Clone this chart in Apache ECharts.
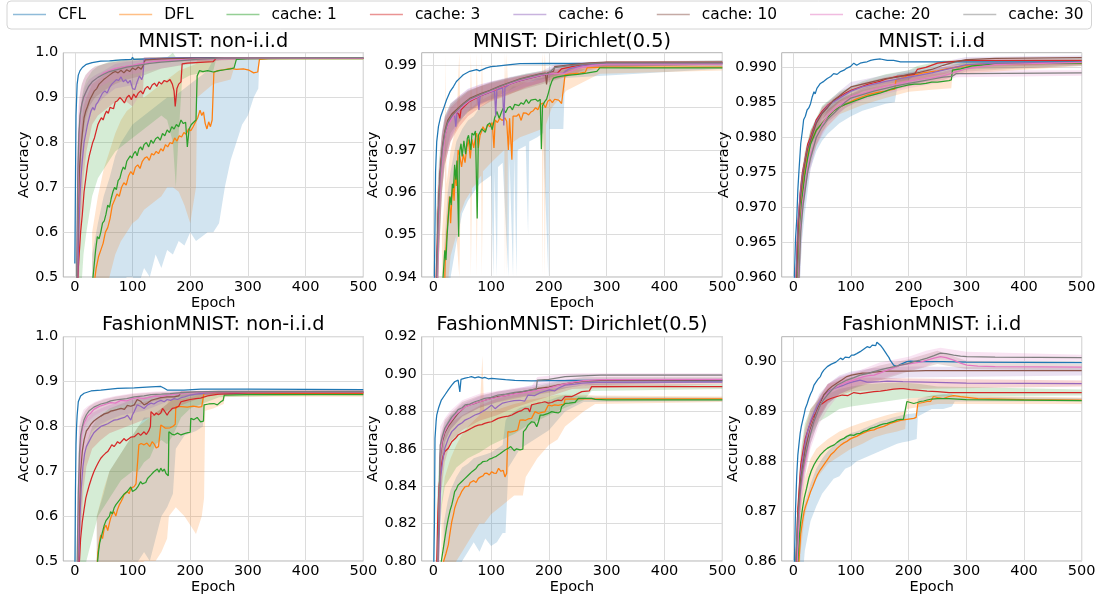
<!DOCTYPE html>
<html>
<head>
<meta charset="utf-8">
<title>Accuracy vs Epoch</title>
<script src="https://cdn.jsdelivr.net/npm/echarts@6/dist/echarts.min.js"></script>
<style>
  html, body { margin: 0; padding: 0; background: #ffffff; }
  #chart { width: 1102px; height: 602px; }
</style>
</head>
<body>
<div id="chart"></div>
<script>
// ---------- names, colours, titles, ticks ----------
const seriesNames = ['CFL', 'DFL', 'cache: 1', 'cache: 3', 'cache: 6', 'cache: 10', 'cache: 20', 'cache: 30'];
const lineColors = ['#1f77b4', '#ff7f0e', '#2ca02c', '#d62728', '#9467bd', '#8c564b', '#e377c2', '#7f7f7f'];
// spread bands take their colours from a separate cycle that starts at blue with DFL (CFL has no band)
const bandColors = [null, '#1f77b4', '#ff7f0e', '#2ca02c', '#d62728', '#9467bd', '#8c564b', '#e377c2'];
const panelTitles = ['MNIST: non-i.i.d', 'MNIST: Dirichlet(0.5)', 'MNIST: i.i.d',
                     'FashionMNIST: non-i.i.d', 'FashionMNIST: Dirichlet(0.5)', 'FashionMNIST: i.i.d'];
const xTicks = [0, 100, 200, 300, 400, 500];
const mnNonYTicks = [0.5, 0.6, 0.7, 0.8, 0.9, 1.0];
const mnDirYTicks = [0.94, 0.95, 0.96, 0.97, 0.98, 0.99];
const mnIidYTicks = [0.96, 0.965, 0.97, 0.975, 0.98, 0.985, 0.99];
const fmNonYTicks = [0.5, 0.6, 0.7, 0.8, 0.9, 1.0];
const fmDirYTicks = [0.80, 0.82, 0.84, 0.86, 0.88, 0.90, 0.92];
const fmIidYTicks = [0.86, 0.87, 0.88, 0.89, 0.90];

// ---------- MNIST non-i.i.d : [epoch, accuracy] ----------
const mnNonCFL = [[0,0.53],[1,0.7],[2,0.86],[4,0.93],[6,0.95],[9,0.96],[13,0.967],[20,0.974],[30,0.978],[45,0.981],[60,0.982],[80,0.984],[98,0.985],[100,0.99],[102,0.985],[130,0.986],[160,0.988],[200,0.989],[300,0.989],[500,0.989]];
const mnNonDFL = [[0,0.3],[33,0.48],[37,0.52],[41,0.545],[45,0.56],[49,0.575],[53,0.6],[57,0.61],[61,0.63],[65,0.66],[69,0.672],[73,0.685],[77,0.68],[81,0.7],[85,0.71],[89,0.705],[93,0.725],[97,0.735],[101,0.728],[105,0.745],[109,0.75],[113,0.742],[117,0.758],[121,0.765],[125,0.768],[129,0.76],[133,0.775],[137,0.772],[141,0.78],[145,0.775],[149,0.786],[153,0.781],[157,0.795],[161,0.79],[165,0.8],[169,0.797],[173,0.81],[177,0.803],[181,0.815],[185,0.812],[189,0.822],[193,0.818],[197,0.83],[201,0.826],[205,0.835],[209,0.845],[213,0.855],[217,0.872],[220,0.86],[223,0.868],[226,0.842],[229,0.83],[232,0.846],[235,0.835],[238,0.85],[241,0.956],[248,0.96],[258,0.962],[270,0.965],[280,0.963],[292,0.964],[302,0.961],[310,0.955],[317,0.957],[320,0.985],[335,0.987],[500,0.987]];
const mnNonC1 = [[0,0.3],[30,0.48],[33,0.52],[36,0.56],[39,0.59],[42,0.585],[45,0.6],[48,0.62],[51,0.625],[54,0.64],[57,0.66],[60,0.655],[63,0.675],[66,0.69],[69,0.7],[72,0.695],[75,0.715],[78,0.72],[81,0.735],[84,0.745],[87,0.74],[90,0.758],[93,0.762],[96,0.77],[99,0.765],[102,0.775],[105,0.78],[108,0.77],[111,0.785],[114,0.79],[117,0.783],[120,0.795],[124,0.8],[128,0.79],[132,0.805],[136,0.798],[140,0.808],[144,0.812],[148,0.805],[152,0.82],[156,0.815],[160,0.828],[164,0.822],[168,0.835],[172,0.83],[176,0.84],[180,0.835],[184,0.85],[188,0.842],[192,0.845],[195,0.79],[198,0.83],[202,0.84],[206,0.845],[210,0.85],[212,0.948],[216,0.96],[222,0.958],[230,0.96],[240,0.957],[250,0.96],[260,0.962],[270,0.964],[276,0.966],[280,0.985],[300,0.987],[500,0.987]];
const mnNonC3 = [[0,0.3],[4,0.45],[6,0.52],[8,0.56],[10,0.6],[13,0.64],[16,0.69],[19,0.72],[22,0.75],[25,0.77],[28,0.785],[31,0.8],[34,0.81],[37,0.825],[40,0.84],[43,0.848],[46,0.855],[49,0.85],[52,0.862],[55,0.87],[58,0.865],[61,0.878],[64,0.882],[67,0.875],[70,0.89],[74,0.893],[78,0.9],[82,0.895],[86,0.888],[90,0.9],[94,0.905],[98,0.895],[102,0.908],[106,0.9],[110,0.91],[114,0.915],[118,0.908],[122,0.92],[126,0.925],[130,0.918],[134,0.928],[138,0.932],[142,0.925],[146,0.935],[150,0.93],[155,0.938],[160,0.935],[165,0.94],[169,0.93],[172,0.915],[174,0.88],[177,0.92],[180,0.93],[184,0.935],[186,0.975],[195,0.977],[210,0.978],[225,0.979],[240,0.98],[245,0.988],[500,0.988]];
const mnNonC6 = [[0,0.3],[5,0.5],[7,0.6],[9,0.68],[11,0.73],[13,0.76],[16,0.8],[19,0.82],[22,0.84],[25,0.855],[28,0.87],[31,0.878],[34,0.872],[37,0.885],[40,0.89],[44,0.9],[48,0.91],[52,0.915],[56,0.91],[60,0.922],[64,0.93],[68,0.935],[72,0.94],[76,0.938],[80,0.946],[84,0.935],[88,0.94],[92,0.932],[96,0.938],[100,0.92],[104,0.918],[108,0.935],[112,0.948],[116,0.94],[118,0.948],[120,0.985],[140,0.986],[170,0.988],[500,0.988]];
const mnNonC10 = [[0,0.3],[4,0.5],[6,0.65],[8,0.74],[10,0.78],[13,0.82],[16,0.855],[19,0.87],[22,0.88],[26,0.895],[30,0.905],[34,0.915],[38,0.92],[42,0.93],[46,0.935],[50,0.94],[55,0.945],[60,0.95],[65,0.955],[70,0.958],[75,0.955],[80,0.961],[85,0.955],[90,0.962],[95,0.958],[100,0.966],[105,0.962],[110,0.968],[115,0.963],[118,0.97],[122,0.984],[150,0.986],[200,0.988],[500,0.988]];
const mnNonC20 = [[0,0.3],[4,0.55],[6,0.75],[8,0.83],[10,0.87],[13,0.89],[16,0.9],[20,0.915],[25,0.925],[30,0.935],[40,0.945],[50,0.955],[60,0.96],[70,0.965],[80,0.967],[90,0.97],[100,0.972],[110,0.975],[120,0.977],[135,0.98],[150,0.982],[175,0.984],[200,0.985],[230,0.986],[260,0.988],[500,0.988]];
const mnNonC30 = [[0,0.3],[3,0.5],[5,0.72],[7,0.82],[9,0.86],[12,0.885],[15,0.9],[19,0.912],[24,0.925],[30,0.935],[40,0.945],[50,0.952],[60,0.958],[75,0.963],[90,0.968],[110,0.972],[130,0.976],[150,0.979],[180,0.982],[210,0.985],[250,0.988],[500,0.989]];
// spread bands : [epoch, lower, upper]
const mnNonBandDFL = [[30,0.3,0.55],[40,0.3,0.62],[50,0.35,0.68],[60,0.4,0.72],[70,0.45,0.77],[80,0.48,0.8],[90,0.5,0.82],[100,0.5,0.84],[110,0.48,0.85],[120,0.52,0.86],[130,0.5,0.87],[140,0.55,0.88],[150,0.52,0.89],[160,0.56,0.9],[170,0.55,0.9],[180,0.58,0.91],[190,0.57,0.92],[200,0.6,0.93],[210,0.58,0.94],[220,0.59,0.95],[230,0.6,0.96],[240,0.6,0.985],[250,0.62,0.988],[260,0.7,0.988],[270,0.76,0.988],[280,0.8,0.988],[290,0.84,0.988],[300,0.86,0.988],[310,0.9,0.988],[318,0.92,0.988],[320,0.985,0.989],[500,0.985,0.989]];
const mnNonBandC1 = [[30,0.3,0.6],[40,0.4,0.68],[50,0.45,0.74],[60,0.5,0.78],[70,0.55,0.82],[80,0.58,0.85],[90,0.6,0.87],[100,0.62,0.88],[110,0.63,0.9],[120,0.65,0.9],[130,0.66,0.91],[140,0.67,0.92],[150,0.68,0.93],[160,0.7,0.94],[170,0.7,0.95],[180,0.69,0.96],[190,0.66,0.965],[200,0.62,0.97],[210,0.7,0.975],[212,0.9,0.985],[240,0.93,0.985],[270,0.94,0.986],[280,0.984,0.988],[500,0.984,0.988]];
const mnNonBandC3 = [[5,0.35,0.8],[10,0.45,0.88],[15,0.55,0.92],[20,0.6,0.94],[30,0.68,0.96],[40,0.72,0.97],[50,0.74,0.975],[60,0.76,0.98],[70,0.78,0.985],[80,0.79,0.985],[90,0.8,0.985],[100,0.81,0.988],[110,0.82,0.988],[120,0.83,0.988],[130,0.84,0.99],[140,0.85,0.99],[150,0.86,0.99],[160,0.85,0.99],[170,0.8,1.0],[175,0.7,0.99],[180,0.82,0.99],[186,0.94,0.99],[200,0.95,0.99],[240,0.96,0.99],[245,0.986,0.99],[500,0.986,0.99]];
const mnNonBandC6 = [[5,0.4,0.7],[10,0.6,0.82],[15,0.72,0.88],[20,0.78,0.9],[30,0.84,0.93],[40,0.86,0.94],[50,0.87,0.95],[60,0.88,0.96],[70,0.89,0.965],[80,0.9,0.97],[90,0.89,0.97],[100,0.88,0.972],[110,0.9,0.975],[118,0.9,0.978],[120,0.98,0.99],[500,0.986,0.99]];
const mnNonBandC10 = [[4,0.4,0.7],[8,0.65,0.85],[12,0.75,0.9],[18,0.82,0.925],[25,0.86,0.94],[35,0.88,0.95],[50,0.9,0.96],[70,0.92,0.975],[90,0.925,0.98],[110,0.93,0.982],[120,0.98,0.99],[500,0.986,0.99]];
const mnNonBandC20 = [[4,0.4,0.75],[8,0.7,0.9],[12,0.8,0.93],[18,0.85,0.95],[25,0.88,0.96],[35,0.9,0.97],[50,0.915,0.975],[70,0.93,0.98],[90,0.94,0.985],[120,0.95,0.988],[150,0.965,0.99],[200,0.975,0.99],[260,0.985,0.99],[500,0.986,0.99]];
const mnNonBandC30 = [[3,0.4,0.75],[6,0.7,0.88],[10,0.8,0.92],[15,0.86,0.94],[22,0.89,0.955],[30,0.91,0.965],[45,0.925,0.972],[60,0.935,0.978],[90,0.95,0.982],[130,0.96,0.986],[180,0.972,0.99],[250,0.984,0.99],[500,0.986,0.99]];

// ---------- MNIST Dirichlet(0.5) ----------
const mnDirCFL = [[0,0.85],[2,0.94],[4,0.965],[6,0.972],[9,0.9756],[13,0.978],[17,0.9795],[23,0.9819],[29,0.9838],[35,0.985],[40,0.9862],[46,0.987],[52,0.9878],[63,0.9886],[75,0.989],[80,0.9887],[92,0.9894],[100,0.9897],[110,0.9898],[133,0.9902],[150,0.9904],[200,0.9905],[500,0.9904]];
const mnDirDFL = [[0,0.85],[19,0.935],[21,0.945],[23,0.949],[26,0.955],[28,0.959],[30,0.9527],[32,0.958],[34,0.962],[36,0.958],[38,0.9645],[40,0.9615],[42,0.967],[43,0.97],[46,0.9685],[49,0.966],[52,0.969],[55,0.967],[58,0.9705],[61,0.9725],[64,0.968],[67,0.9725],[70,0.9705],[73,0.973],[75,0.974],[78,0.9705],[81,0.9735],[84,0.9745],[86,0.9755],[90,0.9745],[94,0.976],[98,0.9755],[102,0.9765],[105,0.9705],[107,0.9771],[111,0.9765],[115,0.9775],[119,0.977],[124,0.9776],[127,0.9768],[130,0.97],[132,0.9775],[136,0.9677],[138,0.978],[141,0.9778],[144,0.978],[148,0.9785],[152,0.977],[156,0.9788],[161,0.9787],[165,0.9783],[169,0.979],[173,0.9793],[177,0.98],[181,0.9795],[185,0.9808],[190,0.9811],[194,0.98],[198,0.9815],[202,0.9819],[206,0.9812],[210,0.982],[213,0.9823],[217,0.9818],[222,0.981],[225,0.9812],[228,0.9878],[240,0.988],[254,0.9882],[263,0.9884],[266,0.9894],[300,0.9896],[500,0.9896]];
const mnDirC1 = [[0,0.85],[15,0.93],[17,0.94],[20,0.9463],[22,0.944],[24,0.95],[27,0.956],[29,0.959],[31,0.957],[33,0.962],[35,0.961],[37,0.9665],[39,0.963],[41,0.9675],[43,0.9676],[44,0.9495],[45,0.968],[46,0.97],[48,0.9715],[50,0.9685],[53,0.9722],[56,0.969],[59,0.9728],[61,0.9735],[63,0.9732],[65,0.97],[67,0.974],[70,0.9735],[73,0.9745],[75,0.9742],[76,0.9538],[78,0.9735],[81,0.9735],[84,0.975],[86,0.9748],[90,0.9742],[94,0.976],[98,0.9764],[102,0.9748],[106,0.9775],[110,0.9791],[114,0.9775],[118,0.979],[121,0.9799],[125,0.9788],[129,0.98],[133,0.9803],[137,0.9795],[141,0.9808],[144,0.9811],[148,0.9805],[152,0.9812],[156,0.9808],[161,0.9819],[165,0.981],[169,0.9818],[173,0.9819],[177,0.982],[181,0.9815],[185,0.982],[187,0.9702],[189,0.9805],[193,0.9815],[196,0.982],[199,0.9834],[202,0.985],[205,0.9862],[208,0.987],[215,0.9873],[225,0.9875],[236,0.9877],[250,0.9879],[265,0.9882],[283,0.9886],[288,0.9894],[500,0.9894]];
const mnDirC3 = [[0,0.85],[5,0.94],[8,0.953],[11,0.962],[14,0.968],[18,0.972],[22,0.9745],[26,0.9765],[30,0.9775],[34,0.9783],[38,0.979],[44,0.9785],[46,0.9775],[48,0.9795],[55,0.9805],[63,0.9815],[81,0.9828],[98,0.9837],[115,0.9847],[133,0.9856],[150,0.9864],[167,0.987],[185,0.9876],[200,0.988],[215,0.9882],[222,0.9892],[250,0.99],[280,0.9905],[300,0.9907],[500,0.9907]];
const mnDirC6 = [[0,0.85],[6,0.94],[9,0.955],[12,0.964],[16,0.97],[20,0.9735],[25,0.976],[32,0.9778],[37,0.9782],[39,0.9755],[41,0.979],[52,0.9805],[63,0.9817],[77,0.9826],[79,0.9795],[81,0.9828],[98,0.9837],[106,0.984],[108,0.978],[110,0.9842],[120,0.9847],[122,0.9758],[124,0.9848],[133,0.9856],[150,0.9864],[167,0.987],[185,0.9876],[200,0.988],[225,0.9882],[235,0.9892],[260,0.99],[300,0.9904],[500,0.9905]];
const mnDirC10 = [[0,0.85],[6,0.94],[9,0.956],[12,0.965],[16,0.971],[20,0.9745],[25,0.977],[32,0.9785],[40,0.9795],[52,0.981],[63,0.9822],[81,0.9833],[98,0.9841],[115,0.9851],[133,0.986],[150,0.9868],[167,0.9874],[185,0.988],[194,0.9882],[196,0.9855],[198,0.9883],[208,0.9886],[210,0.9897],[240,0.9902],[270,0.9906],[300,0.9908],[500,0.9908]];
const mnDirC20 = [[0,0.85],[7,0.94],[10,0.956],[13,0.964],[17,0.97],[21,0.9738],[26,0.976],[33,0.9776],[40,0.979],[52,0.9805],[63,0.9817],[81,0.9829],[98,0.9838],[115,0.9848],[133,0.9857],[150,0.9865],[167,0.9871],[185,0.9877],[200,0.988],[230,0.9882],[250,0.9893],[275,0.99],[300,0.9903],[500,0.9903]];
const mnDirC30 = [[0,0.85],[6,0.94],[9,0.955],[12,0.964],[16,0.9705],[20,0.974],[25,0.9765],[32,0.978],[40,0.9792],[52,0.9808],[63,0.982],[81,0.9831],[98,0.984],[115,0.985],[133,0.9859],[150,0.9867],[167,0.9873],[185,0.9879],[200,0.9882],[210,0.9895],[240,0.99],[270,0.9904],[300,0.9906],[500,0.9906]];
const mnDirBandDFL = [[18,0.92,0.945],[25,0.935,0.96],[30,0.94,0.965],[40,0.948,0.972],[50,0.955,0.975],[60,0.958,0.977],[70,0.96,0.978],[80,0.962,0.98],[90,0.963,0.981],[100,0.964,0.982],[104,0.94,0.985],[106,0.965,0.982],[110,0.94,0.984],[112,0.966,0.983],[120,0.967,0.983],[130,0.94,0.984],[132,0.968,0.984],[138,0.94,0.985],[140,0.969,0.985],[144,0.94,0.985],[146,0.97,0.985],[160,0.971,0.986],[164,0.95,0.986],[166,0.972,0.986],[180,0.973,0.987],[190,0.974,0.987],[199,0.94,0.988],[201,0.975,0.988],[215,0.975,0.988],[225,0.975,0.988],[228,0.987,0.989],[500,0.9892,0.99]];
const mnDirBandC1 = [[15,0.92,0.95],[20,0.93,0.96],[21,0.93,0.993],[23,0.935,0.962],[30,0.945,0.97],[40,0.95,0.976],[45,0.94,0.993],[47,0.955,0.977],[55,0.958,0.978],[64,0.96,0.98],[65,0.94,0.993],[67,0.961,0.98],[74,0.962,0.981],[75,0.94,0.993],[77,0.963,0.981],[83,0.964,0.982],[84,0.94,0.993],[86,0.965,0.982],[100,0.967,0.983],[115,0.969,0.984],[123,0.97,0.984],[124,0.94,0.993],[126,0.97,0.984],[127,0.94,0.993],[129,0.971,0.985],[150,0.973,0.986],[170,0.974,0.986],[188,0.975,0.987],[189,0.94,0.993],[191,0.975,0.987],[193,0.94,0.993],[195,0.976,0.987],[205,0.98,0.988],[230,0.984,0.989],[288,0.988,0.99],[500,0.9888,0.99]];
const mnDirBandC3 = [[5,0.92,0.955],[10,0.945,0.968],[15,0.96,0.974],[20,0.968,0.978],[30,0.974,0.981],[40,0.976,0.982],[60,0.979,0.984],[80,0.981,0.985],[100,0.982,0.986],[130,0.984,0.987],[160,0.986,0.988],[200,0.987,0.989],[222,0.988,0.99],[260,0.9895,0.9905],[500,0.9902,0.9912]];
const mnDirBandC6 = [[6,0.925,0.955],[10,0.945,0.965],[15,0.96,0.9735],[20,0.9665,0.977],[30,0.972,0.98],[45,0.9755,0.982],[60,0.978,0.9838],[80,0.98,0.985],[100,0.9815,0.9858],[130,0.983,0.9868],[160,0.9848,0.9878],[200,0.9865,0.9888],[235,0.9875,0.9898],[270,0.9895,0.9905],[500,0.9901,0.9909]];
const mnDirBandC10 = [[6,0.925,0.955],[10,0.948,0.966],[15,0.962,0.9745],[20,0.968,0.978],[30,0.973,0.981],[45,0.977,0.9828],[60,0.9792,0.9845],[80,0.9808,0.9855],[100,0.982,0.9862],[130,0.9835,0.9872],[160,0.985,0.988],[190,0.986,0.9888],[210,0.9882,0.9902],[250,0.9893,0.9908],[500,0.9904,0.9912]];
const mnDirBandC20 = [[7,0.925,0.955],[10,0.946,0.965],[15,0.96,0.9735],[20,0.9665,0.9775],[30,0.972,0.9805],[45,0.9765,0.9825],[60,0.979,0.984],[80,0.9805,0.985],[100,0.9818,0.986],[130,0.9832,0.987],[160,0.9845,0.9878],[200,0.986,0.9885],[250,0.9882,0.99],[300,0.9898,0.9908],[500,0.9899,0.9907]];
const mnDirBandC30 = [[6,0.925,0.955],[10,0.947,0.966],[15,0.961,0.974],[20,0.967,0.978],[30,0.9725,0.981],[45,0.9768,0.9828],[60,0.9792,0.9843],[80,0.9808,0.9853],[100,0.982,0.9862],[130,0.9835,0.987],[160,0.9848,0.9878],[200,0.9865,0.9888],[210,0.9885,0.99],[250,0.9895,0.9905],[500,0.9903,0.9909]];

// ---------- MNIST i.i.d ----------
const mnIidCFL = [[0,0.93],[2,0.96],[4,0.9655],[6,0.9681],[8,0.9725],[10,0.9753],[13,0.9791],[16,0.981],[18,0.9825],[21,0.983],[24,0.9839],[27,0.9842],[30,0.9848],[33,0.9858],[36,0.9865],[38,0.9862],[41,0.987],[44,0.9868],[47,0.9877],[53,0.988],[59,0.9884],[65,0.9887],[70,0.9891],[76,0.989],[82,0.9894],[88,0.9896],[93,0.9899],[99,0.9901],[105,0.9906],[110,0.9903],[116,0.9906],[122,0.9907],[128,0.9908],[134,0.991],[140,0.9911],[151,0.9912],[163,0.991],[174,0.991],[186,0.9908],[200,0.9908],[500,0.9908]];
const mnIidDFL = [[0,0.94],[9,0.96],[12,0.9675],[16,0.972],[20,0.975],[25,0.9775],[30,0.9792],[40,0.981],[50,0.982],[60,0.9829],[70,0.9838],[80,0.9843],[90,0.9847],[100,0.9851],[110,0.9855],[120,0.9858],[130,0.9861],[140,0.9863],[150,0.9865],[160,0.9866],[170,0.9868],[176,0.9869],[178,0.9882],[190,0.9885],[200,0.9889],[215,0.989],[225,0.9892],[240,0.9894],[250,0.9895],[265,0.9898],[280,0.99],[300,0.9903],[330,0.9905],[500,0.9906]];
const mnIidC1 = [[0,0.94],[8,0.96],[11,0.966],[15,0.971],[20,0.9745],[25,0.977],[30,0.979],[40,0.981],[50,0.982],[60,0.9829],[70,0.9838],[80,0.9843],[90,0.9847],[100,0.985],[110,0.9853],[120,0.9856],[130,0.9859],[140,0.9861],[150,0.9863],[160,0.9866],[170,0.9869],[180,0.9871],[190,0.9873],[200,0.9875],[210,0.9876],[220,0.9876],[230,0.9877],[240,0.9879],[250,0.9879],[260,0.988],[270,0.9881],[274,0.9882],[276,0.9896],[290,0.9898],[310,0.9902],[350,0.9905],[500,0.9906]];
const mnIidC3 = [[0,0.94],[5,0.96],[8,0.9675],[12,0.972],[16,0.975],[20,0.9767],[25,0.979],[30,0.98],[40,0.9825],[50,0.9837],[60,0.9846],[70,0.9852],[80,0.9858],[90,0.9863],[100,0.9867],[110,0.987],[120,0.9873],[130,0.9876],[140,0.9878],[150,0.988],[160,0.9883],[170,0.9885],[180,0.9887],[190,0.9888],[200,0.9889],[210,0.989],[215,0.9897],[230,0.99],[250,0.9906],[270,0.9908],[300,0.991],[500,0.991]];
const mnIidC6 = [[0,0.94],[5,0.96],[8,0.967],[12,0.9717],[16,0.9745],[20,0.9764],[25,0.9785],[30,0.9797],[40,0.9822],[50,0.9835],[60,0.9845],[70,0.9851],[80,0.9856],[90,0.9861],[100,0.9866],[120,0.9872],[140,0.9876],[160,0.988],[180,0.9883],[200,0.9886],[220,0.9889],[240,0.9892],[260,0.9896],[280,0.99],[300,0.9904],[350,0.9906],[500,0.9907]];
const mnIidC10 = [[0,0.94],[6,0.96],[9,0.9672],[13,0.9715],[17,0.9745],[20,0.9762],[25,0.9783],[30,0.9795],[40,0.982],[50,0.9834],[60,0.9843],[70,0.9853],[80,0.9859],[90,0.9866],[100,0.9872],[120,0.9876],[140,0.988],[160,0.9884],[180,0.9886],[200,0.989],[220,0.9893],[240,0.9897],[260,0.9903],[280,0.9908],[300,0.9911],[350,0.9913],[500,0.9914]];
const mnIidC20 = [[0,0.94],[9,0.96],[12,0.9665],[16,0.9705],[20,0.9729],[25,0.9758],[30,0.9775],[40,0.9799],[50,0.9818],[60,0.9831],[70,0.9839],[80,0.9846],[90,0.9851],[100,0.9858],[120,0.9863],[140,0.9868],[160,0.9873],[180,0.9876],[200,0.988],[220,0.9883],[240,0.9885],[260,0.9888],[280,0.9893],[300,0.9898],[350,0.9904],[500,0.9907]];
const mnIidC30 = [[0,0.94],[10,0.96],[13,0.9665],[17,0.9702],[20,0.972],[25,0.975],[30,0.977],[40,0.98],[50,0.9815],[60,0.9826],[70,0.9834],[80,0.9842],[90,0.985],[100,0.9856],[120,0.9861],[140,0.9866],[160,0.987],[180,0.9874],[200,0.9877],[220,0.988],[240,0.9883],[260,0.9886],[275,0.9887],[282,0.9891],[300,0.9891],[500,0.9892]];
const mnIidBandDFL = [[9,0.955,0.963],[15,0.965,0.974],[20,0.969,0.977],[30,0.9755,0.981],[40,0.978,0.9828],[50,0.9795,0.9838],[60,0.9805,0.9845],[80,0.982,0.9855],[100,0.983,0.9862],[120,0.9838,0.9868],[140,0.9843,0.9872],[160,0.9848,0.9875],[176,0.985,0.9877],[180,0.987,0.989],[220,0.9878,0.9896],[260,0.9886,0.99],[300,0.9897,0.9907],[500,0.9902,0.991]];
const mnIidBandC1 = [[8,0.955,0.964],[15,0.968,0.974],[20,0.972,0.977],[30,0.977,0.981],[50,0.9808,0.9832],[80,0.9833,0.9853],[120,0.9846,0.9866],[160,0.9856,0.9876],[200,0.9865,0.9885],[240,0.9868,0.989],[274,0.987,0.9893],[276,0.989,0.9902],[500,0.9902,0.991]];
const mnIidBandC3 = [[5,0.957,0.963],[12,0.9705,0.9735],[20,0.9752,0.978],[30,0.9788,0.981],[50,0.983,0.9845],[80,0.9851,0.9865],[120,0.9866,0.988],[160,0.9876,0.989],[200,0.9882,0.9896],[215,0.9892,0.9902],[260,0.9903,0.991],[500,0.9907,0.9913]];
const mnIidBandC6 = [[5,0.957,0.963],[12,0.9705,0.973],[20,0.9752,0.9775],[30,0.9785,0.9808],[50,0.9826,0.9843],[80,0.9849,0.9863],[120,0.9865,0.9878],[160,0.9873,0.9886],[200,0.988,0.9892],[260,0.989,0.9901],[300,0.99,0.9908],[500,0.9904,0.991]];
const mnIidBandC10 = [[6,0.957,0.963],[13,0.9702,0.9728],[20,0.9752,0.9772],[30,0.9785,0.9805],[50,0.9825,0.9843],[80,0.9851,0.9866],[100,0.9864,0.9879],[140,0.9873,0.9886],[200,0.9883,0.9896],[260,0.9898,0.9908],[300,0.9907,0.9915],[500,0.9911,0.9917]];
const mnIidBandC20 = [[9,0.957,0.963],[16,0.9692,0.9718],[25,0.9746,0.977],[40,0.9788,0.981],[60,0.9822,0.984],[90,0.9842,0.9858],[120,0.9855,0.987],[160,0.9865,0.988],[200,0.9873,0.9887],[260,0.9882,0.9894],[300,0.9894,0.9902],[500,0.9903,0.9911]];
const mnIidBandC30 = [[10,0.957,0.963],[17,0.9688,0.9716],[25,0.9736,0.9764],[40,0.9788,0.9812],[60,0.9816,0.9836],[90,0.9842,0.9858],[120,0.9853,0.9869],[160,0.9862,0.9878],[200,0.987,0.9884],[260,0.9879,0.9893],[282,0.9886,0.9896],[500,0.9888,0.9896]];

// ---------- FashionMNIST non-i.i.d ----------
const fmNonCFL = [[0,0.45],[1,0.65],[2,0.76],[3,0.8],[4,0.825],[6,0.855],[10,0.868],[16,0.874],[28,0.879],[45,0.881],[74,0.885],[103,0.886],[132,0.888],[149,0.889],[155,0.885],[160,0.881],[189,0.881],[218,0.883],[300,0.883],[500,0.882]];
const fmNonDFL = [[0,0.3],[38,0.48],[40,0.52],[43,0.545],[45,0.558],[48,0.55],[51,0.573],[54,0.58],[57,0.568],[60,0.585],[62,0.595],[65,0.605],[68,0.61],[71,0.6],[74,0.615],[77,0.625],[80,0.632],[83,0.64],[85,0.647],[88,0.645],[91,0.655],[94,0.65],[97,0.662],[100,0.66],[103,0.666],[106,0.672],[109,0.669],[111,0.759],[115,0.762],[120,0.759],[125,0.763],[130,0.755],[134,0.766],[138,0.76],[141,0.752],[145,0.755],[148,0.758],[149,0.803],[153,0.8],[157,0.796],[160,0.799],[165,0.797],[170,0.8],[174,0.805],[175,0.844],[185,0.844],[195,0.843],[205,0.845],[215,0.843],[220,0.844],[224,0.876],[240,0.874],[500,0.873]];
const fmNonC1 = [[0,0.3],[38,0.48],[41,0.52],[43,0.54],[45,0.55],[48,0.565],[51,0.58],[54,0.59],[57,0.595],[60,0.6],[62,0.61],[65,0.605],[68,0.618],[71,0.625],[74,0.625],[77,0.635],[80,0.64],[83,0.645],[86,0.65],[89,0.652],[91,0.655],[94,0.66],[97,0.665],[100,0.655],[103,0.651],[106,0.66],[109,0.665],[112,0.668],[114,0.677],[117,0.672],[120,0.668],[123,0.675],[126,0.684],[129,0.688],[132,0.692],[135,0.69],[137,0.699],[140,0.702],[143,0.705],[146,0.698],[149,0.707],[152,0.7],[155,0.705],[158,0.695],[160,0.699],[162,0.69],[163,0.788],[168,0.783],[172,0.781],[178,0.785],[184,0.781],[190,0.784],[196,0.786],[200,0.787],[201,0.818],[206,0.815],[212,0.82],[218,0.81],[223,0.812],[224,0.848],[232,0.85],[241,0.851],[247,0.848],[253,0.855],[257,0.858],[259,0.87],[300,0.871],[500,0.871]];
const fmNonC3 = [[0,0.4],[8,0.5],[10,0.55],[13,0.588],[16,0.615],[19,0.64],[22,0.655],[25,0.669],[29,0.685],[33,0.699],[37,0.71],[41,0.72],[45,0.729],[49,0.735],[53,0.74],[57,0.744],[61,0.752],[64,0.759],[68,0.755],[71,0.76],[74,0.766],[78,0.762],[82,0.768],[85,0.773],[89,0.768],[93,0.772],[97,0.776],[100,0.772],[103,0.777],[106,0.78],[110,0.785],[114,0.78],[117,0.784],[120,0.788],[124,0.782],[128,0.79],[131,0.8],[132,0.833],[135,0.83],[138,0.825],[141,0.83],[145,0.826],[149,0.83],[152,0.84],[155,0.835],[158,0.832],[160,0.825],[163,0.832],[166,0.836],[169,0.84],[172,0.838],[176,0.842],[180,0.845],[184,0.855],[190,0.857],[200,0.86],[210,0.862],[218,0.863],[230,0.868],[250,0.872],[300,0.875],[500,0.875]];
const fmNonC6 = [[0,0.4],[7,0.5],[9,0.6],[11,0.66],[14,0.71],[17,0.74],[20,0.755],[24,0.765],[28,0.775],[33,0.786],[38,0.792],[45,0.8],[51,0.803],[57,0.806],[62,0.81],[68,0.814],[74,0.815],[80,0.818],[86,0.82],[91,0.825],[97,0.814],[100,0.826],[103,0.833],[108,0.848],[114,0.845],[120,0.84],[126,0.848],[132,0.852],[137,0.85],[143,0.855],[149,0.858],[155,0.855],[160,0.86],[166,0.858],[172,0.862],[178,0.86],[184,0.864],[190,0.866],[200,0.87],[210,0.872],[230,0.875],[500,0.877]];
const fmNonC10 = [[0,0.4],[6,0.5],[8,0.62],[10,0.7],[13,0.745],[16,0.77],[20,0.79],[24,0.797],[28,0.805],[33,0.812],[38,0.817],[45,0.823],[51,0.828],[57,0.83],[62,0.834],[68,0.836],[74,0.838],[80,0.84],[86,0.838],[91,0.847],[97,0.845],[103,0.848],[108,0.86],[114,0.856],[120,0.848],[126,0.852],[132,0.858],[137,0.86],[143,0.862],[149,0.864],[160,0.866],[172,0.866],[180,0.868],[184,0.876],[250,0.876],[500,0.876]];
const fmNonC20 = [[0,0.4],[5,0.5],[7,0.65],[9,0.74],[11,0.78],[14,0.8],[17,0.81],[22,0.823],[28,0.83],[33,0.838],[40,0.843],[45,0.846],[55,0.85],[62,0.853],[70,0.852],[80,0.858],[90,0.857],[100,0.862],[110,0.864],[120,0.862],[132,0.866],[140,0.868],[150,0.867],[160,0.87],[175,0.872],[190,0.874],[210,0.876],[250,0.877],[500,0.877]];
const fmNonC30 = [[0,0.4],[4,0.5],[6,0.65],[8,0.74],[10,0.78],[13,0.8],[16,0.815],[20,0.826],[25,0.835],[33,0.843],[45,0.85],[55,0.853],[62,0.857],[75,0.86],[90,0.862],[103,0.866],[120,0.868],[132,0.871],[150,0.872],[165,0.873],[180,0.875],[210,0.877],[250,0.878],[500,0.878]];
const fmNonBandDFL = [[38,0.3,0.6],[50,0.35,0.65],[60,0.4,0.7],[70,0.42,0.72],[80,0.45,0.74],[90,0.47,0.76],[100,0.48,0.78],[110,0.5,0.8],[120,0.52,0.82],[130,0.5,0.82],[140,0.55,0.83],[150,0.6,0.84],[160,0.62,0.85],[170,0.65,0.86],[175,0.75,0.87],[190,0.78,0.87],[210,0.79,0.872],[222,0.8,0.875],[224,0.87,0.878],[500,0.87,0.877]];
const fmNonBandC1 = [[38,0.3,0.6],[50,0.35,0.66],[60,0.4,0.7],[70,0.42,0.72],[80,0.44,0.74],[90,0.46,0.76],[100,0.47,0.78],[110,0.48,0.8],[120,0.5,0.81],[130,0.5,0.82],[140,0.5,0.83],[150,0.52,0.84],[160,0.55,0.85],[163,0.6,0.86],[175,0.62,0.86],[190,0.6,0.862],[200,0.58,0.865],[210,0.56,0.868],[220,0.6,0.87],[224,0.64,0.872],[226,0.835,0.872],[240,0.84,0.874],[258,0.85,0.875],[260,0.866,0.876],[500,0.866,0.876]];
const fmNonBandC3 = [[8,0.35,0.62],[15,0.45,0.72],[20,0.5,0.76],[30,0.55,0.8],[40,0.6,0.82],[50,0.62,0.83],[60,0.64,0.84],[70,0.66,0.845],[80,0.68,0.85],[90,0.69,0.855],[100,0.7,0.86],[110,0.7,0.862],[120,0.72,0.865],[130,0.73,0.868],[140,0.76,0.87],[150,0.77,0.87],[160,0.76,0.872],[170,0.78,0.872],[184,0.82,0.874],[200,0.84,0.875],[250,0.865,0.877],[500,0.872,0.878]];
const fmNonBandC6 = [[7,0.4,0.6],[10,0.55,0.7],[15,0.66,0.76],[20,0.71,0.79],[30,0.75,0.81],[45,0.77,0.825],[60,0.785,0.835],[80,0.795,0.84],[100,0.805,0.848],[120,0.815,0.855],[140,0.825,0.86],[160,0.835,0.866],[190,0.85,0.872],[230,0.87,0.878],[500,0.874,0.88]];
const fmNonBandC10 = [[6,0.4,0.62],[9,0.6,0.75],[13,0.7,0.79],[20,0.76,0.815],[30,0.79,0.83],[45,0.805,0.84],[60,0.815,0.848],[80,0.825,0.855],[100,0.83,0.86],[120,0.835,0.865],[150,0.85,0.87],[184,0.87,0.878],[500,0.873,0.879]];
const fmNonBandC20 = [[5,0.4,0.65],[8,0.62,0.8],[12,0.73,0.82],[18,0.78,0.835],[25,0.8,0.845],[35,0.815,0.853],[50,0.825,0.86],[70,0.835,0.866],[100,0.845,0.872],[130,0.855,0.875],[170,0.865,0.878],[250,0.873,0.88],[500,0.874,0.88]];
const fmNonBandC30 = [[4,0.4,0.66],[7,0.62,0.8],[10,0.74,0.82],[15,0.79,0.837],[22,0.81,0.845],[35,0.825,0.855],[50,0.835,0.862],[70,0.843,0.868],[100,0.852,0.874],[140,0.862,0.878],[200,0.871,0.88],[500,0.875,0.881]];

// ---------- FashionMNIST Dirichlet(0.5) ----------
const fmDirCFL = [[0,0.78],[2,0.82],[3,0.8656],[5,0.875],[6,0.878],[9,0.8817],[14,0.8861],[20,0.8888],[26,0.8915],[32,0.8941],[37,0.8959],[43,0.8968],[45,0.8975],[46,0.8905],[48,0.8972],[55,0.8978],[62,0.8983],[66,0.8986],[72,0.898],[78,0.8985],[85,0.8978],[89,0.8982],[95,0.8975],[101,0.8977],[110,0.8975],[125,0.897],[141,0.8966],[155,0.8965],[170,0.8963],[200,0.8965],[260,0.8966],[500,0.8963]];
const fmDirDFL = [[0,0.7],[18,0.8],[22,0.804],[26,0.8086],[29,0.815],[32,0.821],[35,0.825],[37,0.8282],[40,0.831],[43,0.8335],[46,0.835],[49,0.8371],[52,0.838],[55,0.8398],[58,0.8405],[61,0.84],[64,0.842],[66,0.8424],[70,0.843],[74,0.842],[78,0.8442],[82,0.845],[86,0.8455],[89,0.8469],[93,0.847],[97,0.846],[101,0.8478],[105,0.847],[109,0.8469],[113,0.8496],[117,0.848],[121,0.8485],[124,0.845],[127,0.847],[129,0.8692],[133,0.869],[136,0.8685],[141,0.8695],[146,0.8701],[149,0.87],[150,0.8754],[155,0.8755],[159,0.8752],[164,0.876],[170,0.8763],[173,0.876],[176,0.8799],[182,0.879],[188,0.8795],[193,0.8798],[199,0.8834],[205,0.883],[210,0.8835],[216,0.8833],[222,0.8836],[226,0.8838],[228,0.8866],[260,0.8868],[300,0.8868],[500,0.8867]];
const fmDirC1 = [[0,0.7],[14,0.8],[17,0.806],[20,0.8121],[23,0.818],[26,0.8228],[29,0.827],[32,0.83],[35,0.834],[37,0.8371],[40,0.8385],[43,0.8406],[46,0.8415],[49,0.8424],[52,0.843],[55,0.8442],[58,0.845],[61,0.846],[64,0.8465],[67,0.8478],[70,0.848],[74,0.8495],[78,0.8513],[82,0.852],[86,0.8532],[89,0.854],[93,0.8535],[97,0.8545],[101,0.8549],[105,0.8555],[109,0.856],[112,0.8567],[116,0.8575],[120,0.8585],[125,0.8595],[130,0.8603],[134,0.8612],[136,0.8621],[140,0.859],[144,0.86],[147,0.8603],[150,0.8595],[153,0.859],[155,0.8598],[156,0.8692],[160,0.8705],[164,0.8727],[167,0.873],[170,0.8745],[175,0.8742],[179,0.8718],[182,0.8745],[185,0.8781],[190,0.878],[193,0.878],[199,0.879],[205,0.8799],[210,0.8795],[216,0.8792],[220,0.88],[222,0.8826],[228,0.8843],[235,0.8845],[245,0.8848],[251,0.887],[265,0.887],[274,0.887],[280,0.8865],[300,0.8862],[500,0.8862]];
const fmDirC3 = [[0,0.75],[6,0.8],[8,0.826],[10,0.84],[14,0.8513],[17,0.856],[20,0.8585],[26,0.8603],[32,0.8638],[38,0.8655],[43,0.8674],[49,0.8685],[55,0.8692],[60,0.87],[66,0.871],[72,0.872],[78,0.8727],[84,0.873],[89,0.8736],[95,0.8742],[101,0.8745],[107,0.8755],[112,0.8763],[118,0.8768],[124,0.8772],[130,0.8775],[136,0.8781],[141,0.879],[147,0.8799],[153,0.8805],[159,0.8817],[164,0.8815],[167,0.8798],[170,0.8835],[176,0.884],[182,0.8845],[188,0.8848],[193,0.8852],[199,0.8845],[205,0.8848],[210,0.8855],[216,0.8861],[222,0.8858],[228,0.8879],[240,0.888],[257,0.8906],[270,0.891],[274,0.8933],[500,0.8933]];
const fmDirC6 = [[0,0.75],[9,0.8],[13,0.845],[16,0.853],[20,0.8603],[26,0.8655],[32,0.8692],[38,0.871],[43,0.8727],[50,0.874],[55,0.8754],[63,0.8765],[72,0.8781],[80,0.879],[89,0.8807],[95,0.882],[101,0.8834],[107,0.8815],[112,0.8828],[120,0.8845],[130,0.8852],[140,0.8858],[150,0.886],[158,0.8855],[164,0.8888],[175,0.8885],[185,0.89],[200,0.8915],[210,0.891],[216,0.8924],[228,0.8941],[245,0.8946],[257,0.8952],[280,0.8955],[500,0.8957]];
const fmDirC10 = [[0,0.75],[8,0.8],[12,0.855],[16,0.864],[20,0.8685],[26,0.872],[32,0.8745],[38,0.877],[43,0.879],[50,0.881],[55,0.8826],[63,0.8835],[72,0.8843],[80,0.8852],[89,0.886],[100,0.887],[112,0.8879],[125,0.8885],[141,0.8897],[155,0.8905],[170,0.8915],[182,0.8924],[200,0.893],[215,0.8941],[228,0.8948],[245,0.8956],[260,0.8962],[290,0.8967],[500,0.8968]];
const fmDirC20 = [[0,0.75],[8,0.8],[12,0.857],[16,0.8655],[20,0.8695],[26,0.873],[32,0.8755],[38,0.878],[43,0.8795],[50,0.8812],[55,0.8825],[63,0.8834],[72,0.8845],[80,0.8852],[89,0.886],[100,0.8868],[112,0.8876],[125,0.8885],[141,0.8894],[155,0.89],[170,0.8907],[185,0.8915],[200,0.8925],[215,0.8938],[228,0.8948],[245,0.8958],[260,0.8965],[290,0.897],[500,0.8972]];
const fmDirC30 = [[0,0.75],[8,0.8],[12,0.862],[16,0.867],[20,0.871],[26,0.874],[32,0.877],[38,0.879],[43,0.881],[50,0.882],[55,0.8835],[63,0.884],[72,0.8852],[80,0.886],[89,0.887],[100,0.8875],[112,0.8888],[125,0.8893],[141,0.8902],[155,0.8908],[170,0.8915],[178,0.8918],[180,0.8968],[200,0.8972],[228,0.8986],[257,0.8991],[290,0.8994],[500,0.8995]];
const fmDirBandDFL = [[18,0.75,0.82],[25,0.77,0.832],[30,0.78,0.838],[40,0.79,0.845],[50,0.8,0.85],[60,0.805,0.852],[70,0.81,0.855],[80,0.805,0.856],[90,0.812,0.857],[100,0.808,0.858],[110,0.81,0.86],[120,0.815,0.862],[125,0.815,0.875],[130,0.85,0.878],[150,0.86,0.882],[175,0.865,0.884],[200,0.87,0.886],[228,0.88,0.889],[260,0.885,0.888],[500,0.8855,0.8875]];
const fmDirBandC1 = [[14,0.75,0.83],[20,0.77,0.845],[30,0.79,0.855],[40,0.8,0.862],[50,0.805,0.868],[60,0.81,0.872],[70,0.815,0.875],[80,0.82,0.878],[85,0.82,0.91],[88,0.82,0.88],[100,0.825,0.88],[120,0.83,0.882],[140,0.835,0.884],[155,0.835,0.885],[160,0.845,0.886],[180,0.855,0.887],[200,0.862,0.888],[215,0.865,0.889],[228,0.872,0.889],[260,0.88,0.889],[280,0.884,0.8885],[500,0.885,0.888]];
const fmDirBandC3 = [[6,0.78,0.83],[10,0.81,0.855],[15,0.83,0.866],[20,0.84,0.872],[30,0.845,0.878],[40,0.85,0.88],[60,0.855,0.883],[80,0.858,0.885],[100,0.862,0.887],[120,0.865,0.888],[140,0.868,0.889],[160,0.872,0.89],[180,0.875,0.891],[200,0.878,0.892],[228,0.882,0.893],[260,0.886,0.894],[274,0.891,0.8945],[500,0.892,0.8945]];
const fmDirBandC6 = [[9,0.79,0.82],[13,0.835,0.855],[20,0.853,0.867],[30,0.864,0.874],[50,0.87,0.878],[80,0.875,0.883],[110,0.878,0.887],[140,0.882,0.889],[170,0.885,0.892],[200,0.888,0.894],[240,0.892,0.896],[500,0.8945,0.897]];
const fmDirBandC10 = [[8,0.78,0.82],[12,0.845,0.865],[20,0.863,0.874],[30,0.8705,0.878],[50,0.877,0.884],[80,0.882,0.888],[110,0.885,0.8905],[140,0.8875,0.892],[170,0.889,0.894],[200,0.8905,0.8955],[230,0.8925,0.897],[260,0.894,0.898],[500,0.8955,0.898]];
const fmDirBandC20 = [[8,0.78,0.82],[12,0.847,0.867],[20,0.864,0.8755],[30,0.8705,0.879],[50,0.8775,0.885],[80,0.882,0.8885],[110,0.8848,0.8905],[140,0.8868,0.892],[170,0.8885,0.893],[200,0.89,0.895],[230,0.8925,0.897],[260,0.894,0.8985],[500,0.896,0.8985]];
const fmDirBandC30 = [[8,0.78,0.82],[12,0.852,0.872],[20,0.866,0.8765],[30,0.8725,0.8805],[50,0.878,0.886],[80,0.8825,0.8895],[110,0.8855,0.891],[140,0.8875,0.8925],[170,0.889,0.8935],[180,0.894,0.8985],[230,0.8965,0.9002],[260,0.898,0.9005],[500,0.8985,0.9005]];

// ---------- FashionMNIST i.i.d ----------
const fmIidCFL = [[0,0.84],[2,0.86],[4,0.8705],[6,0.877],[8,0.8813],[10,0.8835],[12,0.8856],[14,0.887],[16,0.888],[19,0.8895],[21,0.8906],[24,0.8915],[27,0.8926],[30,0.8935],[33,0.8942],[36,0.8953],[40,0.896],[43,0.8965],[47,0.897],[50,0.8978],[53,0.8983],[56,0.8985],[59,0.899],[62,0.8988],[66,0.8995],[70,0.8997],[74,0.8999],[78,0.9003],[82,0.9007],[86,0.9004],[90,0.9009],[93,0.901],[97,0.9008],[101,0.9013],[105,0.9013],[110,0.9016],[116,0.902],[122,0.9025],[128,0.903],[133,0.9028],[137,0.9033],[140,0.9035],[143,0.9032],[145,0.9039],[148,0.9036],[151,0.9033],[155,0.9027],[159,0.902],[163,0.9013],[166,0.9008],[168,0.9003],[171,0.8998],[174,0.8993],[177,0.8991],[180,0.899],[185,0.8994],[191,0.8997],[197,0.9],[203,0.9001],[220,0.9],[260,0.9],[300,0.8999],[500,0.8998]];
const fmIidDFL = [[0,0.84],[10,0.86],[13,0.8655],[16,0.8679],[19,0.87],[22,0.8712],[26,0.8725],[30,0.8739],[34,0.875],[38,0.8762],[42,0.8773],[47,0.8783],[53,0.8793],[59,0.8803],[65,0.8813],[70,0.8818],[76,0.8826],[82,0.8832],[88,0.8837],[93,0.884],[99,0.8845],[105,0.8848],[110,0.885],[116,0.8854],[122,0.8857],[128,0.886],[134,0.8862],[140,0.8863],[145,0.8866],[151,0.8868],[157,0.887],[163,0.8873],[168,0.8876],[174,0.8878],[180,0.888],[186,0.8882],[191,0.8883],[197,0.8884],[203,0.8885],[209,0.8886],[213,0.8888],[215,0.889],[216,0.8916],[225,0.8918],[232,0.892],[238,0.892],[241,0.8922],[243,0.893],[250,0.8928],[260,0.8926],[270,0.893],[278,0.8932],[290,0.893],[320,0.8926],[400,0.8924],[500,0.8923]];
const fmIidC1 = [[0,0.84],[8,0.86],[11,0.8655],[13,0.8679],[16,0.8705],[19,0.8726],[23,0.8745],[27,0.8766],[31,0.878],[36,0.8793],[41,0.8803],[47,0.8813],[53,0.882],[59,0.8826],[65,0.883],[71,0.8833],[76,0.8838],[82,0.8843],[88,0.8846],[93,0.885],[99,0.8853],[105,0.8852],[110,0.8855],[116,0.8856],[122,0.886],[128,0.8862],[134,0.8866],[140,0.8868],[145,0.887],[151,0.8873],[157,0.8875],[163,0.8876],[168,0.8878],[174,0.888],[180,0.8883],[186,0.8884],[191,0.8884],[194,0.8886],[197,0.892],[203,0.8918],[209,0.8916],[215,0.8918],[220,0.892],[226,0.8921],[232,0.8923],[240,0.8925],[250,0.8926],[270,0.8926],[300,0.8924],[400,0.8923],[500,0.8922]];
const fmIidC3 = [[0,0.84],[5,0.86],[8,0.8705],[13,0.8793],[17,0.882],[21,0.8846],[27,0.8868],[33,0.8886],[40,0.8898],[47,0.8913],[53,0.8918],[59,0.8923],[65,0.8926],[76,0.893],[85,0.8933],[95,0.8932],[105,0.8938],[116,0.8936],[128,0.8938],[140,0.894],[151,0.8941],[163,0.8943],[174,0.8945],[185,0.8946],[191,0.8946],[203,0.8944],[215,0.8943],[232,0.8941],[250,0.894],[270,0.8938],[300,0.8938],[500,0.8938]];
const fmIidC6 = [[0,0.84],[6,0.86],[9,0.869],[13,0.8779],[17,0.881],[21,0.884],[25,0.886],[30,0.888],[36,0.8897],[42,0.8913],[48,0.8924],[53,0.8933],[60,0.894],[70,0.8946],[80,0.895],[88,0.8953],[96,0.8957],[105,0.896],[116,0.8963],[122,0.8961],[128,0.8959],[134,0.8959],[151,0.896],[163,0.8961],[190,0.896],[230,0.8959],[300,0.8957],[500,0.8956]];
const fmIidC10 = [[0,0.84],[6,0.86],[9,0.8705],[13,0.8766],[17,0.8795],[21,0.8826],[25,0.8845],[30,0.8866],[36,0.8885],[42,0.8906],[48,0.892],[53,0.8933],[60,0.8943],[67,0.895],[76,0.8957],[84,0.8963],[93,0.897],[101,0.8973],[110,0.8975],[120,0.8977],[130,0.8977],[140,0.8979],[150,0.898],[163,0.8981],[180,0.8981],[200,0.8981],[230,0.8982],[300,0.8982],[500,0.8982]];
const fmIidC20 = [[0,0.84],[7,0.86],[10,0.8685],[13,0.8739],[17,0.8775],[21,0.88],[25,0.8825],[30,0.886],[36,0.888],[42,0.89],[48,0.8915],[53,0.8926],[60,0.8937],[70,0.8946],[80,0.8952],[88,0.8957],[96,0.896],[105,0.8963],[114,0.8967],[122,0.897],[131,0.8972],[140,0.8973],[152,0.8978],[163,0.8983],[175,0.8988],[186,0.8993],[198,0.8995],[209,0.8997],[220,0.8999],[232,0.9003],[244,0.9007],[255,0.901],[265,0.9008],[278,0.9003],[290,0.8997],[301,0.8993],[320,0.8991],[350,0.899],[500,0.8989]];
const fmIidC30 = [[0,0.84],[4,0.86],[7,0.866],[10,0.8712],[13,0.875],[16,0.8779],[20,0.8805],[24,0.8826],[30,0.8855],[36,0.888],[42,0.8898],[47,0.8913],[53,0.8924],[59,0.8933],[67,0.8943],[76,0.8953],[85,0.8958],[93,0.8963],[105,0.8968],[116,0.8973],[128,0.8976],[140,0.898],[152,0.8984],[163,0.8987],[175,0.899],[186,0.8993],[198,0.8996],[209,0.9],[220,0.9003],[232,0.9007],[244,0.9012],[255,0.9017],[265,0.9016],[278,0.9013],[290,0.9011],[301,0.901],[350,0.9009],[500,0.9008]];
const fmIidBandDFL = [[10,0.845,0.865],[15,0.855,0.869],[20,0.862,0.8715],[30,0.868,0.8755],[40,0.871,0.8785],[50,0.8735,0.8805],[60,0.875,0.882],[70,0.8765,0.8832],[80,0.877,0.884],[90,0.8785,0.885],[100,0.879,0.8857],[110,0.88,0.886],[120,0.8805,0.8865],[130,0.881,0.887],[140,0.8815,0.8875],[150,0.882,0.888],[160,0.8825,0.8883],[170,0.883,0.8887],[180,0.8835,0.889],[190,0.8838,0.8893],[200,0.884,0.8895],[214,0.8845,0.8897],[216,0.889,0.8925],[240,0.8905,0.8932],[260,0.8905,0.8935],[275,0.891,0.8935],[280,0.892,0.893],[500,0.892,0.8927]];
const fmIidBandC1 = [[8,0.85,0.866],[13,0.862,0.872],[20,0.869,0.8765],[30,0.874,0.8805],[40,0.8765,0.8825],[50,0.878,0.8835],[60,0.8795,0.8845],[80,0.881,0.886],[100,0.8825,0.887],[120,0.8835,0.8878],[140,0.8848,0.8885],[160,0.8855,0.8892],[180,0.886,0.8898],[194,0.8865,0.89],[197,0.8905,0.8925],[250,0.8915,0.8933],[500,0.8915,0.8928]];
const fmIidBandC3 = [[5,0.85,0.866],[13,0.875,0.882],[20,0.881,0.8875],[30,0.885,0.8905],[45,0.888,0.8925],[60,0.889,0.8935],[80,0.8905,0.8945],[100,0.891,0.895],[130,0.8915,0.8955],[160,0.892,0.8957],[190,0.8925,0.8958],[220,0.8928,0.8955],[250,0.893,0.895],[500,0.8932,0.8944]];
const fmIidBandC6 = [[6,0.85,0.867],[13,0.874,0.881],[20,0.88,0.8865],[30,0.8855,0.8905],[45,0.889,0.8928],[60,0.8918,0.8955],[80,0.8932,0.8962],[100,0.894,0.8968],[130,0.8942,0.8968],[200,0.8945,0.8966],[500,0.895,0.8962]];
const fmIidBandC10 = [[6,0.85,0.868],[13,0.873,0.8805],[20,0.8785,0.8855],[30,0.8835,0.8895],[45,0.8885,0.8935],[60,0.8915,0.8955],[80,0.8935,0.8972],[100,0.8945,0.898],[140,0.8962,0.8987],[200,0.8968,0.899],[500,0.8972,0.8987]];
const fmIidBandC20 = [[7,0.85,0.867],[13,0.87,0.877],[20,0.8765,0.8835],[30,0.8835,0.8885],[45,0.8885,0.893],[60,0.8915,0.8955],[80,0.8935,0.8968],[110,0.8948,0.8978],[150,0.8962,0.8992],[200,0.898,0.9005],[250,0.8995,0.9022],[300,0.8985,0.9002],[500,0.8982,0.8995]];
const fmIidBandC30 = [[4,0.85,0.866],[10,0.8685,0.874],[20,0.8775,0.8835],[30,0.8825,0.8885],[45,0.8875,0.8925],[60,0.8905,0.8955],[80,0.8935,0.897],[110,0.8952,0.898],[150,0.8965,0.8998],[200,0.8982,0.901],[230,0.899,0.9022],[255,0.9005,0.9028],[300,0.9,0.902],[500,0.9002,0.9014]];

// ---------- panel assembly ----------
const panels = [
  { lines: [mnNonCFL, mnNonDFL, mnNonC1, mnNonC3, mnNonC6, mnNonC10, mnNonC20, mnNonC30],
    bands: [null, mnNonBandDFL, mnNonBandC1, mnNonBandC3, mnNonBandC6, mnNonBandC10, mnNonBandC20, mnNonBandC30],
    yMin: 0.5, yMax: 1.0, yTicks: mnNonYTicks, digits: 1 },
  { lines: [mnDirCFL, mnDirDFL, mnDirC1, mnDirC3, mnDirC6, mnDirC10, mnDirC20, mnDirC30],
    bands: [null, mnDirBandDFL, mnDirBandC1, mnDirBandC3, mnDirBandC6, mnDirBandC10, mnDirBandC20, mnDirBandC30],
    yMin: 0.94, yMax: 0.993, yTicks: mnDirYTicks, digits: 2 },
  { lines: [mnIidCFL, mnIidDFL, mnIidC1, mnIidC3, mnIidC6, mnIidC10, mnIidC20, mnIidC30],
    bands: [null, mnIidBandDFL, mnIidBandC1, mnIidBandC3, mnIidBandC6, mnIidBandC10, mnIidBandC20, mnIidBandC30],
    yMin: 0.96, yMax: 0.9921, yTicks: mnIidYTicks, digits: 3 },
  { lines: [fmNonCFL, fmNonDFL, fmNonC1, fmNonC3, fmNonC6, fmNonC10, fmNonC20, fmNonC30],
    bands: [null, fmNonBandDFL, fmNonBandC1, fmNonBandC3, fmNonBandC6, fmNonBandC10, fmNonBandC20, fmNonBandC30],
    yMin: 0.5, yMax: 1.0, yTicks: fmNonYTicks, digits: 1 },
  { lines: [fmDirCFL, fmDirDFL, fmDirC1, fmDirC3, fmDirC6, fmDirC10, fmDirC20, fmDirC30],
    bands: [null, fmDirBandDFL, fmDirBandC1, fmDirBandC3, fmDirBandC6, fmDirBandC10, fmDirBandC20, fmDirBandC30],
    yMin: 0.80, yMax: 0.92, yTicks: fmDirYTicks, digits: 2 },
  { lines: [fmIidCFL, fmIidDFL, fmIidC1, fmIidC3, fmIidC6, fmIidC10, fmIidC20, fmIidC30],
    bands: [null, fmIidBandDFL, fmIidBandC1, fmIidBandC3, fmIidBandC6, fmIidBandC10, fmIidBandC20, fmIidBandC30],
    yMin: 0.86, yMax: 0.905, yTicks: fmIidYTicks, digits: 2 }
];

// ---------- layout ----------
const FONT = 'DejaVu Sans';
const colLeft = [63.3, 421.7, 781.7];
const colWidth = [300, 300.6, 300];
const rowTop = [52.7, 336.7];
const plotHeight = 224.3;
const yNameGap = [30, 39, 48, 30, 38, 40];
const titleTop = [30.5, 314];

const grids = [], xAxes = [], yAxes = [], titles = [], series = [];

panels.forEach((p, i) => {
  const col = i % 3, row = Math.floor(i / 3);
  grids.push({
    left: colLeft[col], top: rowTop[row], width: colWidth[col], height: plotHeight,
    show: true, borderColor: '#b3b3b3', borderWidth: 1, backgroundColor: 'transparent'
  });
  titles.push({
    text: panelTitles[i],
    left: colLeft[col] + colWidth[col] / 2, top: titleTop[row], textAlign: 'center', padding: 0,
    textStyle: { fontFamily: FONT, fontSize: 19.3, fontWeight: 'normal', color: '#000', lineHeight: 22 }
  });
  xAxes.push({
    type: 'value', gridIndex: i, min: -20, max: 500,
    name: 'Epoch', nameLocation: 'middle', nameGap: 18,
    nameTextStyle: { fontFamily: FONT, fontSize: 14.5, color: '#000' },
    axisLine: { show: false },
    axisTick: { show: false, customValues: xTicks },
    axisLabel: { customValues: xTicks, fontFamily: FONT, fontSize: 14.5, color: '#000', margin: 3 },
    splitLine: { show: true, lineStyle: { color: '#dcdcdc', width: 1 } }
  });
  yAxes.push({
    type: 'value', gridIndex: i, min: p.yMin, max: p.yMax,
    name: 'Accuracy', nameLocation: 'middle', nameGap: yNameGap[i],
    nameTextStyle: { fontFamily: FONT, fontSize: 14.5, color: '#000' },
    axisLine: { show: false },
    axisTick: { show: false, customValues: p.yTicks },
    axisLabel: {
      customValues: p.yTicks, fontFamily: FONT, fontSize: 14.5, color: '#000', margin: 5,
      formatter: (v) => Number(v).toFixed(p.digits)
    },
    splitLine: { show: true, lineStyle: { color: '#dcdcdc', width: 1 } }
  });

  p.lines.forEach((line, k) => {
    series.push({
      type: 'line', name: seriesNames[k], xAxisIndex: i, yAxisIndex: i,
      data: line, symbol: 'none', color: lineColors[k],
      lineStyle: { width: 1.25, color: lineColors[k] },
      emphasis: { disabled: true }, silent: true, animation: false
    });
    const band = p.bands[k];
    if (band) {
      // The band is a stacked pair: the lower edge, then (upper - lower) filled on top of it.
      // Values are stored as [accuracy, epoch] so that the accuracy column is the stacked one.
      const stackId = 'spread-' + i + '-' + k;
      series.push({
        type: 'line', xAxisIndex: i, yAxisIndex: i, stack: stackId,
        data: band.map(d => [d[1], d[0]]), encode: { x: 1, y: 0 }, symbol: 'none',
        lineStyle: { opacity: 0 }, emphasis: { disabled: true }, silent: true, animation: false
      });
      series.push({
        type: 'line', xAxisIndex: i, yAxisIndex: i, stack: stackId,
        data: band.map(d => [d[2] - d[1], d[0]]), encode: { x: 1, y: 0 }, symbol: 'none',
        lineStyle: { opacity: 0 },
        areaStyle: { color: bandColors[k], opacity: 0.2 },
        emphasis: { disabled: true }, silent: true, animation: false
      });
    }
  });
});

const chart = echarts.init(document.getElementById('chart'), null, { renderer: 'canvas' });
chart.setOption({
  animation: false,
  backgroundColor: '#ffffff',
  textStyle: { fontFamily: FONT },
  title: titles,
  legend: {
    data: seriesNames.map((n, k) => ({ name: n, itemStyle: { color: lineColors[k], opacity: 0.5 } })),
    left: 7, top: 1,
    icon: 'rect', itemWidth: 33, itemHeight: 1.6, itemGap: 33,
    padding: [5, 8, 6, 6],
    borderColor: '#d4d4d4', borderWidth: 1, borderRadius: 4,
    selectedMode: false,
    textStyle: { fontFamily: FONT, fontSize: 15.4, color: '#000', lineHeight: 17, padding: [0, 0, 0, 7] }
  },
  grid: grids,
  xAxis: xAxes,
  yAxis: yAxes,
  series: series
});
</script>
</body>
</html>
